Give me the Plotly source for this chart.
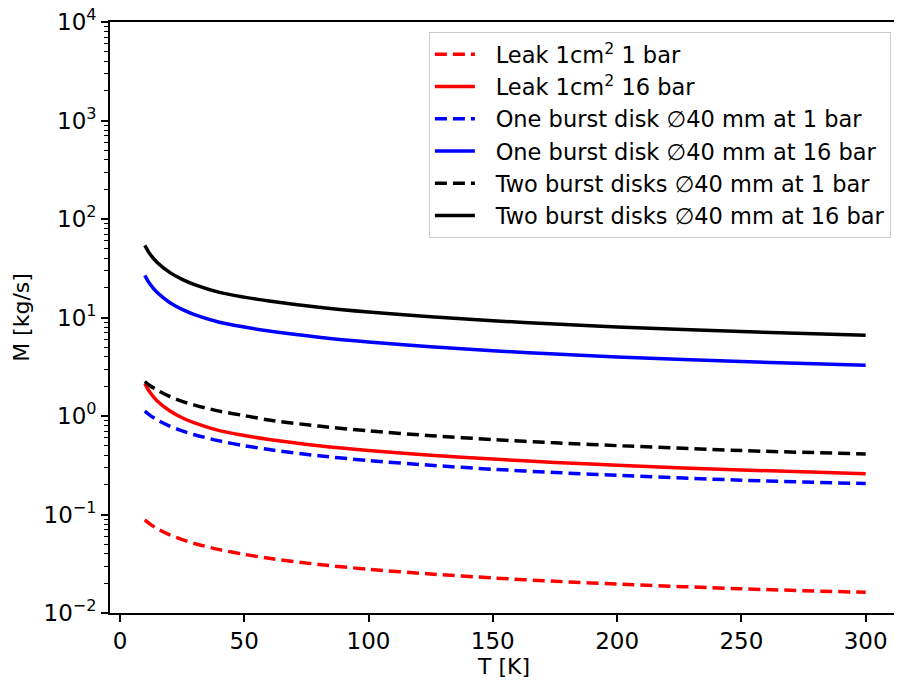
import plotly.graph_objects as go

# Temperature samples [K]
T = [10, 12, 15, 20, 25, 30, 40, 50, 60, 80, 100, 125, 150, 175, 200, 250, 300]

# Mass flow [kg/s]
leak_1bar = [0.088, 0.0803, 0.0719, 0.0622, 0.0557, 0.0508, 0.0440, 0.0394, 0.0359,
             0.0311, 0.0278, 0.0249, 0.0227, 0.0210, 0.0197, 0.0176, 0.0162]
leak_16bar = [2.13, 1.75, 1.42, 1.13, 0.96, 0.85, 0.71, 0.635, 0.578,
              0.50, 0.447, 0.40, 0.365, 0.338, 0.316, 0.283, 0.260]
one_disk_1bar = [1.12, 1.02, 0.913, 0.79, 0.707, 0.645, 0.559, 0.50, 0.456,
                 0.395, 0.353, 0.316, 0.288, 0.267, 0.250, 0.223, 0.206]
one_disk_16bar = [26.8, 22.0, 17.9, 14.2, 12.1, 10.7, 8.95, 8.0, 7.28,
                  6.3, 5.63, 5.04, 4.6, 4.26, 3.98, 3.57, 3.28]
two_disk_1bar = [2.24, 2.04, 1.83, 1.58, 1.41, 1.29, 1.12, 1.01, 0.91,
                 0.79, 0.706, 0.632, 0.577, 0.534, 0.50, 0.446, 0.412]
two_disk_16bar = [54.1, 44.5, 36.1, 28.7, 24.4, 21.6, 18.0, 16.1, 14.7,
                  12.7, 11.35, 10.2, 9.27, 8.59, 8.03, 7.19, 6.60]

labels = [
    "Leak 1cm<sup>2</sup> 1 bar",
    "Leak 1cm<sup>2</sup> 16 bar",
    "One burst disk \u220540 mm at 1 bar",
    "One burst disk \u220540 mm at 16 bar",
    "Two burst disks \u220540 mm at 1 bar",
    "Two burst disks \u220540 mm at 16 bar",
]
series = [leak_1bar, leak_16bar, one_disk_1bar, one_disk_16bar, two_disk_1bar, two_disk_16bar]
colors = ["#ff0000", "#ff0000", "#0000ff", "#0000ff", "#000000", "#000000"]
dashes = ["12px,6px", "solid", "12px,6px", "solid", "12px,6px", "solid"]

y_tickvals = [1e-2, 1e-1, 1e0, 1e1, 1e2, 1e3, 1e4]
y_ticktext = ["10<sup>\u22122</sup>", "10<sup>\u22121</sup>", "10<sup>0</sup>",
              "10<sup>1</sup>", "10<sup>2</sup>", "10<sup>3</sup>", "10<sup>4</sup>"]
x_tickvals = [0, 50, 100, 150, 200, 250, 300]

minor_vals = [m * 10 ** e for e in range(-2, 4) for m in range(2, 10)]

fig = go.Figure()
for i, (ys, lab) in enumerate(zip(series, labels)):
    fig.add_trace(go.Scatter(
        x=T, y=ys, mode="lines", name="\u2002\u2009" + lab, legendgroup=f"g{i}",
        line=dict(color=colors[i], width=3.5, dash=dashes[i], shape="spline", smoothing=0.8),
    ))

FONT = "DejaVu Sans"
fig.update_layout(
    width=902, height=682,
    paper_bgcolor="white", plot_bgcolor="white",
    margin=dict(l=102, r=12, t=14, b=77, autoexpand=False),
    font=dict(family=FONT, size=22, color="black"),
    showlegend=True,
    legend=dict(
        x=0.991, y=0.983, xanchor="right", yanchor="top",
        bgcolor="rgba(255,255,255,0.8)", bordercolor="#cccccc", borderwidth=1,
        font=dict(family=FONT, size=22.5, color="black"),
        tracegroupgap=0, itemwidth=40,
    ),
    xaxis=dict(
        range=[-4, 313], tickmode="array", tickvals=x_tickvals,
        showgrid=False, zeroline=False, automargin=False,
        showline=True, linecolor="black", linewidth=1.6, mirror=True,
        ticks="outside", ticklen=7, tickwidth=1.5, tickcolor="black",
        tickfont=dict(size=23), ticklabeloverflow="allow",
        title=dict(text="T [K]", font=dict(size=22), standoff=3),
    ),
    yaxis=dict(
        type="log", range=[-2, 4], tickmode="array",
        tickvals=y_tickvals, ticktext=y_ticktext,
        showgrid=False, zeroline=False, automargin=False,
        showline=True, linecolor="black", linewidth=1.6, mirror=True,
        ticks="outside", ticklen=7, tickwidth=1.5, tickcolor="black",
        tickfont=dict(size=23), ticklabeloverflow="allow",
        minor=dict(tickmode="array", tickvals=minor_vals, ticks="outside",
                   ticklen=4, tickwidth=1, tickcolor="black", showgrid=False),
        title=dict(text="M [kg/s]", font=dict(size=22), standoff=8),
    ),
)

fig.write_html("out.html")
